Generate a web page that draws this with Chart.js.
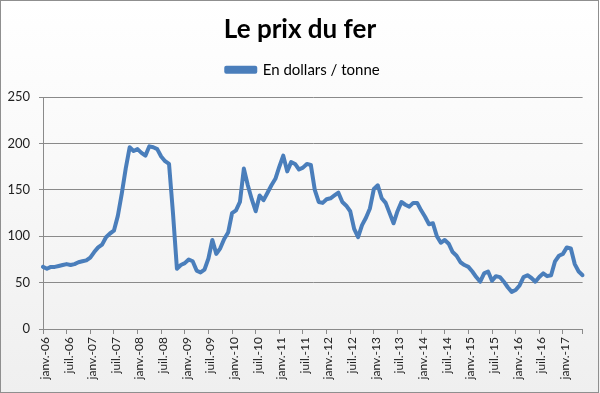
<!DOCTYPE html>
<html>
<head>
<meta charset="utf-8">
<script src="https://cdn.jsdelivr.net/npm/chart.js@4/dist/chart.umd.min.js"></script>
<style>
  html, body { margin: 0; padding: 0; background: #ffffff; }
  #wrap { position: relative; width: 600px; height: 393px; background: linear-gradient(to bottom, #ffffff 0%, #f9f9f9 40%, #efefef 100%); }
  #frame { position: absolute; left: 0; top: 0; width: 597px; height: 391px; border: 1px solid #8f8f8f; pointer-events: none; }
  canvas { position: absolute; left: 0; top: 0; }
</style>
</head>
<body>
<div id="wrap">
  <canvas id="c" width="600" height="393"></canvas>
  <div id="frame"></div>
</div>
<script>
const chartTitle = 'Le prix du fer';
const seriesName = 'En dollars / tonne';

const categories = [
  'janv.-06','févr.-06','mars-06','avr.-06','mai-06','juin-06','juil.-06','août-06','sept.-06','oct.-06','nov.-06','déc.-06',
  'janv.-07','févr.-07','mars-07','avr.-07','mai-07','juin-07','juil.-07','août-07','sept.-07','oct.-07','nov.-07','déc.-07',
  'janv.-08','févr.-08','mars-08','avr.-08','mai-08','juin-08','juil.-08','août-08','sept.-08','oct.-08','nov.-08','déc.-08',
  'janv.-09','févr.-09','mars-09','avr.-09','mai-09','juin-09','juil.-09','août-09','sept.-09','oct.-09','nov.-09','déc.-09',
  'janv.-10','févr.-10','mars-10','avr.-10','mai-10','juin-10','juil.-10','août-10','sept.-10','oct.-10','nov.-10','déc.-10',
  'janv.-11','févr.-11','mars-11','avr.-11','mai-11','juin-11','juil.-11','août-11','sept.-11','oct.-11','nov.-11','déc.-11',
  'janv.-12','févr.-12','mars-12','avr.-12','mai-12','juin-12','juil.-12','août-12','sept.-12','oct.-12','nov.-12','déc.-12',
  'janv.-13','févr.-13','mars-13','avr.-13','mai-13','juin-13','juil.-13','août-13','sept.-13','oct.-13','nov.-13','déc.-13',
  'janv.-14','févr.-14','mars-14','avr.-14','mai-14','juin-14','juil.-14','août-14','sept.-14','oct.-14','nov.-14','déc.-14',
  'janv.-15','févr.-15','mars-15','avr.-15','mai-15','juin-15','juil.-15','août-15','sept.-15','oct.-15','nov.-15','déc.-15',
  'janv.-16','févr.-16','mars-16','avr.-16','mai-16','juin-16','juil.-16','août-16','sept.-16','oct.-16','nov.-16','déc.-16',
  'janv.-17','févr.-17','mars-17','avr.-17','mai-17','juin-17'
];

const prixFer = [
  67, 65, 67, 67, 68, 69, 70, 69, 70, 72, 73, 74,
  77, 83, 88, 91, 99, 103, 106, 122, 146, 173, 196, 192,
  194, 190, 187, 197, 196, 194, 186, 181, 178, 125, 65, 69,
  71, 75, 73, 63, 61, 64, 76, 96, 81, 87, 97, 104,
  125, 128, 137, 173, 155, 140, 127, 144, 139, 147, 155, 162,
  175, 187, 170, 180, 178, 172, 174, 178, 177, 150, 137, 136,
  140, 141, 144, 147, 137, 133, 127, 108, 99, 112, 120, 130,
  151, 155, 141, 136, 125, 114, 127, 137, 134, 132, 136, 136,
  128, 121, 113, 114, 100, 93, 96, 92, 83, 79, 72, 69,
  67, 62, 56, 51, 60, 62, 52, 57, 56, 51, 45, 40,
  42, 47, 56, 58, 55, 51, 56, 60, 57, 58, 73, 79,
  81, 88, 87, 70, 62, 58
];

const tickLabels = [
  'janv.-06','juil.-06','janv.-07','juil.-07','janv.-08','juil.-08','janv.-09','juil.-09',
  'janv.-10','juil.-10','janv.-11','juil.-11','janv.-12','juil.-12','janv.-13','juil.-13',
  'janv.-14','juil.-14','janv.-15','juil.-15','janv.-16','juil.-16','janv.-17'
];
const yTicks = [0, 50, 100, 150, 200, 250];

const FONT = 'Lato, "Open Sans", sans-serif';
const LINE = '#4a7ebb';
const GRID = '#8a8a8a';

const headerLayout = {
  id: 'headerLayout',
  beforeInit(chart) {
    if (!chart.legend) return;
    const origFit = chart.legend.fit;
    chart.legend.fit = function () {
      origFit.call(this);
      this.height += 10;
    };
  },
  afterLayout(chart) {
    if (chart.titleBlock) { chart.titleBlock.left += 8; chart.titleBlock.right += 8; }
    if (chart.legend) { chart.legend.left += 11; chart.legend.right += 11; }
  }
};

new Chart(document.getElementById('c'), {
  type: 'line',
  data: {
    labels: categories,
    datasets: [{
      label: seriesName,
      data: prixFer,
      borderColor: LINE,
      backgroundColor: LINE,
      borderWidth: 4,
      pointRadius: 0,
      tension: 0,
      borderCapStyle: 'round',
      borderJoinStyle: 'round',
      fill: false
    }]
  },
  plugins: [headerLayout],
  options: {
    responsive: false,
    animation: false,
    layout: { padding: { left: 0, right: 16, top: 0, bottom: 0 } },
    plugins: {
      title: {
        display: true,
        text: chartTitle,
        color: '#000000',
        font: { family: FONT, size: 26, weight: 'bold' },
        padding: { top: 14, bottom: 5 }
      },
      legend: {
        display: true,
        labels: {
          color: '#000000',
          font: { family: FONT, size: 15 },
          boxWidth: 29,
          boxHeight: 4,
          padding: 12
        }
      },
      tooltip: { enabled: false }
    },
    scales: {
      x: {
        type: 'category',
        offset: false,
        grid: {
          display: true,
          drawOnChartArea: false,
          drawTicks: true,
          tickLength: 5,
          offset: false,
          color: (ctx) => {
            const lbl = categories[ctx.index];
            return (tickLabels.includes(lbl) || ctx.index === categories.length - 1) ? GRID : 'rgba(0,0,0,0)';
          }
        },
        border: { display: true, color: GRID, width: 1 },
        ticks: {
          autoSkip: false,
          maxRotation: 90,
          minRotation: 90,
          padding: 3,
          labelOffset: 2,
          color: '#222222',
          font: { family: FONT, size: 12 },
          callback: function(value, index) {
            const lbl = categories[index];
            return tickLabels.includes(lbl) ? lbl : '';
          }
        },
        afterFit: (scale) => { scale.height = 64; }
      },
      y: {
        min: 0,
        max: 250,
        afterBuildTicks: (scale) => { scale.ticks = yTicks.map(v => ({ value: v })); },
        grid: {
          color: GRID,
          lineWidth: 1,
          drawTicks: true,
          tickLength: 4
        },
        border: { display: true, color: GRID, width: 1 },
        ticks: {
          padding: 9,
          color: '#222222',
          font: { family: FONT, size: 13 }
        },
        afterFit: (scale) => { scale.width = 43; }
      }
    }
  }
});
</script>
</body>
</html>
